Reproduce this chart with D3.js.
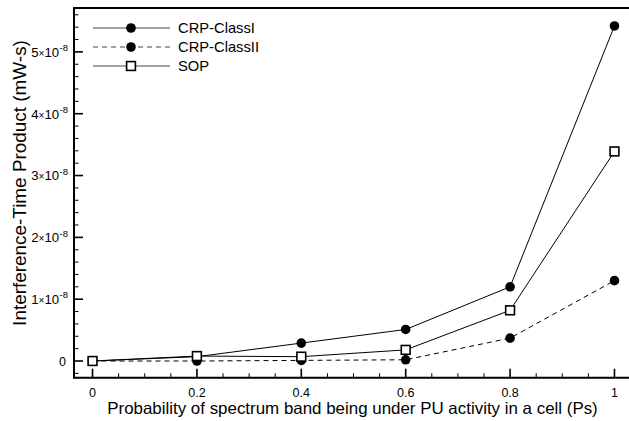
<!DOCTYPE html>
<html><head><meta charset="utf-8">
<script src="https://cdn.jsdelivr.net/npm/d3@7"></script>
<style>body{margin:0;background:#fff}svg{display:block;font-family:"Liberation Sans",Arial,Helvetica,sans-serif}</style>
</head><body><svg id="c" width="629" height="421"></svg>
<script>
const xValues = [0, 0.2, 0.4, 0.6, 0.8, 1.0];
const crpClassI = [0, 0.07e-8, 0.29e-8, 0.51e-8, 1.20e-8, 5.42e-8];
const crpClassII = [0, 0.0, 0.01e-8, 0.02e-8, 0.37e-8, 1.30e-8];
const sop = [0, 0.08e-8, 0.07e-8, 0.18e-8, 0.82e-8, 3.39e-8];
const seriesNames = ["CRP-ClassI", "CRP-ClassII", "SOP"];
const xTicks = [0, 0.2, 0.4, 0.6, 0.8, 1];
const yTickMantissas = [0, 1, 2, 3, 4, 5];

const svg = d3.select("#c");
const L = 74, T = 8, B = 377.7, R = 633;
const x = d3.scaleLinear().domain([-0.0355, 1.0355]).range([L, R]);
const y = d3.scaleLinear().domain([-0.27e-8, 5.71e-8]).range([B, T]);

function fit(sel, base, target) {
  const w = sel.node().getComputedTextLength();
  if (w > 0) sel.attr("font-size", base * target / w);
}

// ticks (inward)
const g = svg.append("g");
const xMinor = d3.range(0, 1.0001, 0.05);
xMinor.forEach(v => {
  const major = Math.abs(v*5 - Math.round(v*5)) < 1e-6;
  g.append("line").attr("x1", x(v)).attr("x2", x(v)).attr("y1", B).attr("y2", B - (major ? 9 : 4.5))
    .attr("stroke", "#000").attr("stroke-width", major ? 1.6 : 1);
});
const yMinor = d3.range(-0.2e-8, 5.61e-8, 0.2e-8);
yMinor.forEach(v => {
  const q = v / 1e-8;
  const major = Math.abs(q - Math.round(q)) < 1e-6;
  g.append("line").attr("x1", L).attr("x2", L + (major ? 9 : 4.5)).attr("y1", y(v)).attr("y2", y(v))
    .attr("stroke", "#000").attr("stroke-width", major ? 1.6 : 1);
});

// frame
svg.append("path").attr("d", `M${R},${T}H${L}V${B}H${R}`).attr("fill", "none").attr("stroke", "#000").attr("stroke-width", 2);

// x tick labels
xTicks.forEach(v => {
  svg.append("text").attr("x", x(v)).attr("y", 397).attr("text-anchor", "middle").attr("font-size", 12.5).text(v.toString());
});
// y tick labels
yTickMantissas.forEach(m => {
  const t = svg.append("text").attr("x", 68).attr("y", y(m * 1e-8) + 4.8).attr("text-anchor", "end").attr("font-size", 13.2);
  if (m === 0) { t.attr("x", 66).attr("font-size", 12.5).text("0"); return; }
  t.append("tspan").text(m);
  t.append("tspan").attr("font-size", 10).text("×");
  t.append("tspan").text("10");
  t.append("tspan").attr("font-size", 9.5).attr("dy", -5.5).attr("dx", 0.5).text("-8");
});

// axis titles
const xt = svg.append("text").attr("x", 352.5).attr("y", 414).attr("text-anchor", "middle").attr("font-size", 16)
  .text("Probability of spectrum band being under PU activity in a cell (Ps)");
fit(xt, 16, 491);
const yt = svg.append("text").attr("transform", "translate(26,183) rotate(-90)").attr("text-anchor", "middle").attr("font-size", 16)
  .text("Interference-Time Product (mW-s)");
fit(yt, 16, 286);

const line = d3.line().x((d, i) => x(xValues[i])).y(d => y(d));
const series = [
  {name: seriesNames[0], vals: crpClassI, dash: null, marker: "circle"},
  {name: seriesNames[1], vals: crpClassII, dash: "5,4", marker: "circle"},
  {name: seriesNames[2], vals: sop, dash: null, marker: "square"}
];
function marker(sel, type, cx, cy) {
  if (type === "circle") sel.append("circle").attr("cx", cx).attr("cy", cy).attr("r", 4.8).attr("fill", "#000");
  else sel.append("rect").attr("x", cx - 4.4).attr("y", cy - 4.4).attr("width", 8.8).attr("height", 8.8)
    .attr("fill", "#fff").attr("stroke", "#000").attr("stroke-width", 1.6);
}
// draw order: ClassII, ClassI, SOP
[1, 0, 2].forEach(k => {
  const s = series[k];
  svg.append("path").attr("d", line(s.vals)).attr("fill", "none").attr("stroke", "#000").attr("stroke-width", 1)
    .attr("stroke-dasharray", s.dash);
  const mg = svg.append("g");
  s.vals.forEach((v, i) => marker(mg, s.marker, x(xValues[i]), y(v)));
});

// legend
const lg = svg.append("g");
series.forEach((s, i) => {
  const ly = 28 + i * 19;
  lg.append("line").attr("x1", 93).attr("x2", 170).attr("y1", ly).attr("y2", ly).attr("stroke", "#444").attr("stroke-width", 1)
    .attr("stroke-dasharray", s.dash);
  marker(lg, s.marker, 131, ly);
  const t = lg.append("text").attr("x", 178).attr("y", ly + 5).attr("font-size", 14).text(s.name);
  if (i === 0) fit(t, 14, 77);
});
const lfs = lg.select("text").attr("font-size");
lg.selectAll("text").attr("font-size", lfs);
</script></body></html>
